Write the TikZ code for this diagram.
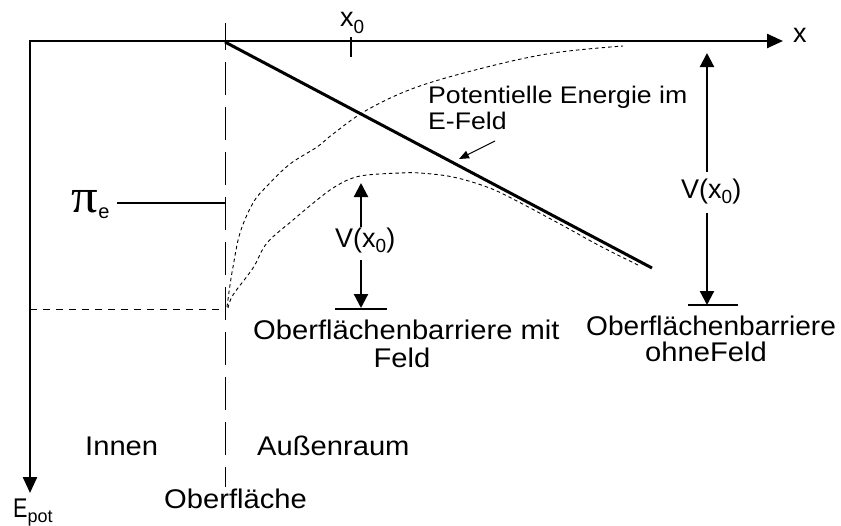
\documentclass[tikz,border=0pt]{standalone}
\usepackage{fontspec}
\setmainfont{Liberation Sans}
\newfontfamily\pifont{Liberation Serif}
\usetikzlibrary{arrows.meta}
\newcommand{\fs}[1]{\fontsize{#1}{#1}\selectfont}
\newcommand{\sx}[2]{\scalebox{#1}[1]{#2}}
\newcommand{\subz}{\raisebox{-5pt}{\fs{19}0}}
\begin{document}
\begin{tikzpicture}[x=1pt,y=-1pt,
  axisline/.style={line width=2.4pt,line join=miter,{Triangle[length=16pt,width=14pt]}-{Triangle[length=16pt,width=14pt]}},
  varrow/.style={line width=2.2pt,-{Triangle[length=14pt,width=14pt]}},
  barline/.style={line width=2.4pt},
  fieldline/.style={line width=3pt},
  surface/.style={line width=1pt,dash pattern=on 33pt off 12pt,dash phase=6pt},
  levelline/.style={line width=1pt,dash pattern=on 7pt off 6pt},
  barrier/.style={line width=0.9pt,dash pattern=on 3.5pt off 3pt},
  pointer/.style={line width=1pt,-{Triangle[length=10pt,width=8pt]}},
  bigtxt/.style={inner sep=0pt,font=\fs{27}},
  midtxt/.style={inner sep=0pt,font=\fs{24}}]
\useasboundingbox (0,0) rectangle (841,525);

% axes
\coordinate (O) at (30,41);
\coordinate (xend) at (783,41);
\coordinate (yend) at (30,493);
\draw[axisline] (yend) -- (O) -- (xend);
\node[bigtxt,anchor=base west] (xlab) at (793,42) {x};
\node[bigtxt,anchor=base west] (elab) at (13,517) {\sx{0.8}{E}\raisebox{-5pt}{\fs{18}pot}};

% x0 tick
\coordinate (tickA) at (351,37);
\coordinate (tickB) at (351,57);
\draw[barline] (tickA) -- (tickB);
\node[bigtxt,anchor=base west] (x0lab) at (340,26) {x\raisebox{-7pt}{\fs{19}0}};

% surface
\coordinate (sTop) at (225,23);
\coordinate (sBot) at (225,487);
\draw[surface] (sTop) -- (sBot);

% level line
\coordinate (lvA) at (30,309);
\coordinate (lvB) at (225,309);
\draw[levelline] (lvA) -- (lvB);

% mu_e
\node[inner sep=0pt,anchor=base west] (mu) at (71,212) {\sx{1.1}{\pifont\fs{48}π}\kern0.5pt\raisebox{-6pt}{\fs{20}e}};
\coordinate (muA) at (117,203);
\coordinate (muB) at (225,203);
\draw[barline] (muA) -- (muB);

% field line
\coordinate (fA) at (225,42);
\coordinate (fB) at (652,268);
\draw[fieldline] (fA) -- (fB);

% barriers
\draw[barrier] plot[smooth,tension=0.6] coordinates {(227,307) (230,285) (233,267) (240,233) (253,203) (267,186) (290,164) (317,147) (333,134) (367,110) (417,87) (487,67) (553,53) (623,46)};
\draw[barrier] plot[smooth,tension=0.6] coordinates {(228,308) (233,295) (253,268) (267,243) (293,220) (317,200) (333,188) (350,179) (367,175) (400,173) (420,173) (453,177) (487,187) (513,199) (560,224) (600,246) (640,266)};

% potential label
\node[midtxt,anchor=base west] (pe1) at (428,103) {\sx{1.11}{Potentielle Energie im}};
\node[midtxt,anchor=base west] (pe2) at (428,129) {\sx{1.11}{E-Feld}};
\coordinate (pA) at (495,141);
\coordinate (pB) at (459,159);
\draw[pointer] (pA) -- (pB);

% middle V(x0)
\node[bigtxt,anchor=base west] (vm) at (335,247) {V(x\subz)};
\coordinate (vmA) at (361,227);
\coordinate (vmB) at (361,183);
\coordinate (vmC) at (361,260);
\coordinate (vmD) at (361,308);
\draw[varrow] (vmA) -- (vmB);
\draw[varrow] (vmC) -- (vmD);
\coordinate (bmA) at (335,309);
\coordinate (bmB) at (387,309);
\draw[barline] (bmA) -- (bmB);

% right V(x0)
\node[bigtxt,anchor=base west] (vr) at (681,198) {V(x\subz)};
\coordinate (vrA) at (707,172);
\coordinate (vrB) at (707,53);
\coordinate (vrC) at (707,213);
\coordinate (vrD) at (707,305);
\draw[varrow] (vrA) -- (vrB);
\draw[varrow] (vrC) -- (vrD);
\coordinate (brA) at (688,305);
\coordinate (brB) at (738,305);
\draw[barline] (brA) -- (brB);

% labels
\node[bigtxt,anchor=base west] (bm1) at (253,339) {\sx{1.08}{Oberflächenbarriere mit}};
\node[bigtxt,anchor=base] (bm2) at (402,367) {\sx{1.08}{Feld}};
\node[bigtxt,anchor=base west] (bo1) at (586,335) {\sx{1.04}{Oberflächenbarriere}};
\node[bigtxt,anchor=base west] (bo2) at (645,361) {\sx{1.08}{ohneFeld}};
\node[bigtxt,anchor=base west] (innen) at (85,455) {\sx{1.08}{Innen}};
\node[bigtxt,anchor=base west] (aussen) at (257,455) {\sx{1.08}{Außenraum}};
\node[bigtxt,anchor=base west] (ofl) at (164,508) {\sx{1.08}{Oberfläche}};
\end{tikzpicture}
\end{document}
